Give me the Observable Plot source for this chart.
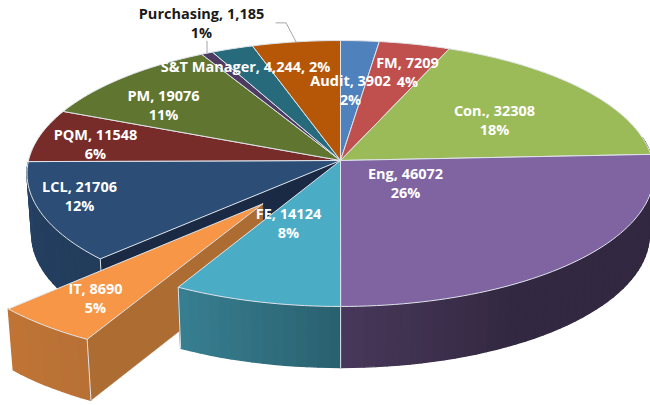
<!DOCTYPE html>
<html>
<head>
<meta charset="utf-8">
<style>html,body{margin:0;padding:0;background:#fff}svg{display:block}</style>
<script src="https://cdn.jsdelivr.net/npm/d3@7"></script>
<script src="https://cdn.jsdelivr.net/npm/@observablehq/plot@0.6"></script>
</head>
<body>
<div id="chart"></div>
<script>
const categories = ["Audit","FM","Con.","Eng","FE","IT","LCL","PQM","PM","Purchasing","S&T Manager","Other"];
const values = [3902,7209,32308,46072,14124,8690,21706,11548,19076,1185,4244,8936];
const colors = ["#4F81BD","#C0504D","#9BBB59","#8064A2","#4BACC6","#F79646","#2C4D75","#772C2A","#5F7530","#4D3B62","#276A7C","#B65708"];
const labels = ["Audit, 3902\n2%","FM, 7209\n4%","Con., 32308\n18%","Eng, 46072\n26%","FE, 14124\n8%","IT, 8690\n5%","LCL, 21706\n12%","PQM, 11548\n6%","PM, 19076\n11%","Purchasing, 1,185\n1%","S&T Manager, 4,244, 2%",""];
// label anchors in chart units, relative to the pie's apex
const labelDX = [10,67,154,65,-52,-245,-261,-245,-177,-139,-95,0];
const labelDY = [-71,-89,-41,22,62,137,35,-17,-56,-138,-95,0];

// projection of the tilted disc
const A = 312, B = 131.7, K = 0.0977, DEPTH = 61, TAPER = 0.985;
const EXPLODE = 0.4, explodedIndex = 5, sideFrom = 80, sideTo = 269;
function project(u, v, low) { // u right, v toward viewer, in radius units
  const w = 1 - K * v;
  const X = A * u / w, Y = B * v / w;
  return low ? {x: X * TAPER, y: Y + DEPTH} : {x: X, y: Y};
}
const rad = d => d * Math.PI / 180;
const total = d3.sum(values);
let acc = 0;
const slices = values.map((v, i) => {
  const a0 = acc / total * 360; acc += v;
  const a1 = acc / total * 360, mid = (a0 + a1) / 2;
  const off = i === explodedIndex ? EXPLODE : 0;
  return {i, a0, a1, mid, ou: off * Math.sin(rad(mid)), ov: -off * Math.cos(rad(mid)), color: colors[i]};
});
const rim = (s, a, low) => project(s.ou + Math.sin(rad(a)), s.ov - Math.cos(rad(a)), low);
const apex = (s, low) => project(s.ou, s.ov, low);
const shade = d3.scaleLinear().domain([0,150,180,210,270,360]).range([0.4,0.4,0.56,0.75,0.85,0.85]);
const scaled = (c, f) => { const r = d3.rgb(c); return d3.rgb(r.r*f, r.g*f, r.b*f).formatHex(); };

const polys = [];
let pid = 0;
function poly(points, fill, stroke, sw) {
  pid++;
  points.forEach(p => polys.push({x: p.x, y: p.y, id: pid, fill, stroke, sw}));
}
const EDGE = "#dfe4ea";
function sideFace(s) {
  const from = Math.max(s.a0, sideFrom), to = Math.min(s.a1, sideTo);
  if (to <= from) return;
  const n = Math.ceil((to - from) / 2);
  for (let k = 0; k < n; k++) {
    const a = from + (to - from) * k / n, b = from + (to - from) * (k + 1) / n;
    const c = scaled(s.color, shade((a + b) / 2));
    poly([rim(s,a), rim(s,b), rim(s,b,true), rim(s,a,true), rim(s,a)], c, c, 1.4);
  }
}
function topFace(s) {
  const pts = [apex(s)];
  const n = Math.ceil((s.a1 - s.a0) / 1.5);
  for (let k = 0; k <= n; k++) pts.push(rim(s, s.a0 + (s.a1 - s.a0) * k / n));
  pts.push(apex(s));
  poly(pts, s.color, EDGE, 1);
}
function wall(s, a, color) {
  poly([apex(s), rim(s,a), rim(s,a,true), apex(s,true), apex(s)], color, color, 0.5);
}
function edgeLine(s, a) {
  poly([rim(s,a), rim(s,a,true)], "none", EDGE, 1);
}
const it = slices[explodedIndex], fe = slices[4], lcl = slices[6], eng = slices[3];
const rear = slices.filter(s => s !== it && s !== fe);
rear.forEach(sideFace);
wall(lcl, lcl.a0, "#1a2a44");
edgeLine(lcl, lcl.a0);
rear.forEach(topFace);
wall(it, it.a0, "#ac6c32");
sideFace(it);
edgeLine(it, it.a0);
topFace(it);
sideFace(fe);
edgeLine(fe, fe.a0);
edgeLine(fe, fe.a1);
topFace(fe);

// leader lines, from each label to its slice rim
const purchasing = slices[9], other = slices[11];
const pEnd = rim(purchasing, purchasing.mid), oEnd = rim(other, other.mid);
const leaders = [
  {x: pEnd.x, y: pEnd.y, id: 1}, {x: pEnd.x, y: pEnd.y - 12, id: 1},
  {x: oEnd.x, y: oEnd.y, id: 2}, {x: oEnd.x - 10, y: oEnd.y - 19, id: 2}, {x: oEnd.x - 20, y: oEnd.y - 19, id: 2}
];
const textRows = slices.filter(s => labels[s.i]).map(s => ({
  x: labelDX[s.i], y: labelDY[s.i], text: labels[s.i], dark: categories[s.i] === "Purchasing"
}));

const font = {fontFamily: "Open Sans", fontWeight: 700, fontSize: 14.5, lineHeight: 1.31, lineAnchor: "middle", textAnchor: "middle"};
const chart = Plot.plot({
  width: 650, height: 405,
  margin: 0,
  style: {background: "#fff"},
  x: {domain: [-340, 310], range: [0, 650], axis: null},
  y: {domain: [-160, 245], range: [0, 405], axis: null},
  color: {type: "identity"},
  marks: [
    Plot.line(polys, {x: "x", y: "y", z: "id", fill: "fill", stroke: "stroke", strokeWidth: "sw", curve: "linear", strokeLinejoin: "round"}),
    Plot.line(leaders, {x: "x", y: "y", z: "id", stroke: "#a6a6a6", strokeWidth: 1}),
    Plot.text(textRows.filter(d => !d.dark), {x: "x", y: "y", text: "text", fill: "#ffffff", ...font}),
    Plot.text(textRows.filter(d => d.dark), {x: "x", y: "y", text: "text", fill: "#1a1a1a", ...font})
  ]
});
document.getElementById("chart").append(chart);
</script>
</body>
</html>
